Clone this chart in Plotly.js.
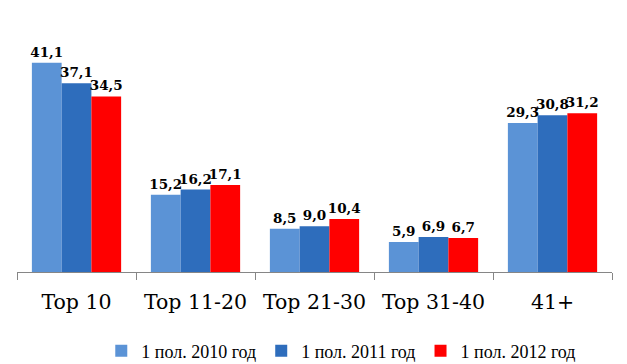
<!DOCTYPE html>
<html><head><meta charset="utf-8">
<script src="https://cdn.plot.ly/plotly-3.0.1.min.js"></script>
<style>html,body{margin:0;padding:0;background:#fff}#c{width:627px;height:364px}</style>
</head><body><div id="c"></div>
<script>
const categories = ["Top 10", "Top 11-20", "Top 21-30", "Top 31-40", "41+"];
const seriesNames = ["1 пол. 2010 год", "1 пол. 2011 год", "1 пол. 2012 год"];
const s2010 = [41.1, 15.2, 8.5, 5.9, 29.3];
const s2011 = [37.1, 16.2, 9.0, 6.9, 30.8];
const s2012 = [34.5, 17.1, 10.4, 6.7, 31.2];
const colors = ["#5B93D6", "#2E6DBC", "#FF0000"];

const SERIF = 'Liberation Serif';
const fmt = v => v.toFixed(1).replace('.', ',');
const traces = [s2010, s2011, s2012].map((vals, i) => ({
  type: 'bar', x: categories, y: vals, name: seriesNames[i],
  marker: {color: colors[i]},
  text: vals.map(v => '<b>' + fmt(v) + '</b>'), textposition: 'outside', cliponaxis: false,
  constraintext: 'none',
  textfont: {family: 'DejaVu Serif', size: 13.5, color: '#000'},
  hoverinfo: 'none'
}));
const layout = {
  width: 627, height: 364,
  font: {family: SERIF, color: '#000'},
  margin: {l: 17, r: 15, t: 43, b: 92, autoexpand: false},
  barmode: 'group', bargap: 0.25, bargroupgap: 0,
  paper_bgcolor: '#fff', plot_bgcolor: '#fff',
  showlegend: true,
  legend: {orientation: 'h', x: 0.545, xanchor: 'center', y: -0.345, yanchor: 'middle',
    font: {family: SERIF, size: 18, color: '#000'}, itemwidth: 30, traceorder: 'normal'},
  xaxis: {type: 'category', showline: true, linecolor: '#868686', linewidth: 1,
    ticks: 'outside', tickson: 'boundaries', ticklen: 7, tickcolor: '#868686',
    tickfont: {family: 'DejaVu Serif', size: 20.5, color: '#000'}, ticklabelstandoff: 11},
  yaxis: {range: [0, 45], visible: false, showgrid: false, zeroline: false}
};
Plotly.newPlot('c', traces, layout, {staticPlot: true});
</script></body></html>
